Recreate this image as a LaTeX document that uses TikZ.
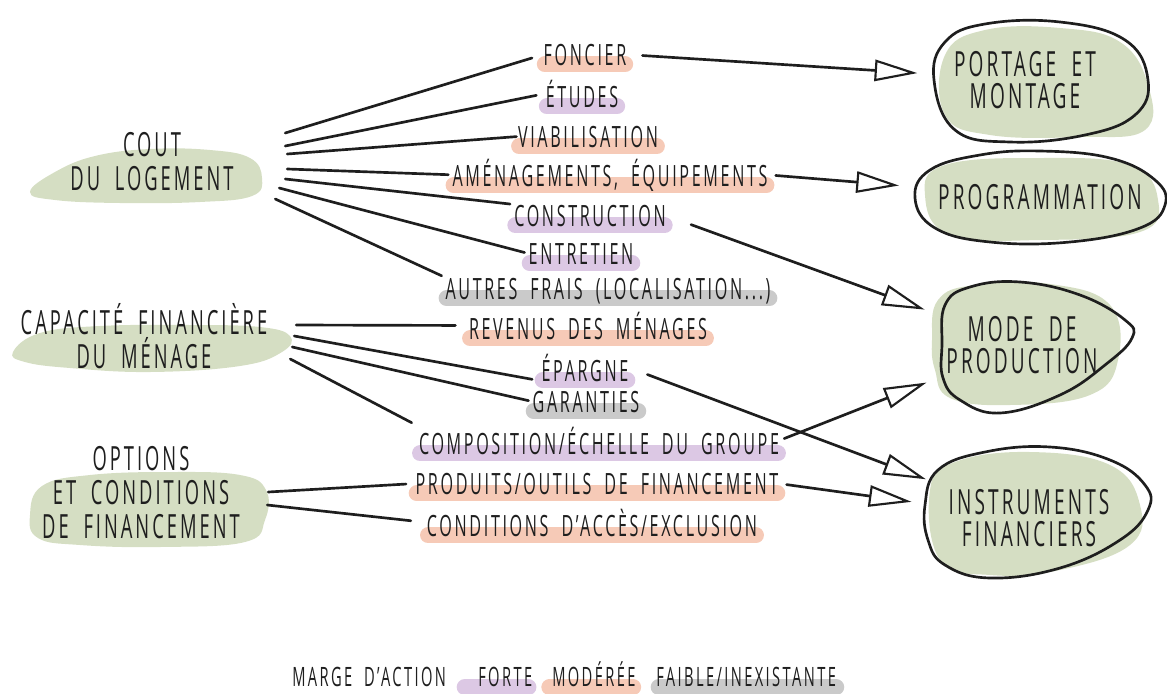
\documentclass[tikz,border=0pt]{standalone}
\usepackage{fontspec}
\setmainfont{Open Sans}[FakeStretch=0.55,LetterSpace=9,WordSpace=1.9]
\usetikzlibrary{arrows.meta,shapes.geometric,calc}
\pgfdeclarelayer{bg}
\pgfsetlayers{bg,main}
\definecolor{sage}{HTML}{D5DEC3}
\definecolor{peach}{HTML}{F6CAB7}
\definecolor{lilac}{HTML}{DCC8E4}
\definecolor{greyhl}{HTML}{CACACA}
\definecolor{ink}{HTML}{1E1E1E}
\tikzset{
  leftnode/.style={align=center, font=\fontsize{25}{25.5}\selectfont, text=ink, inner sep=0pt},
  midnode/.style={anchor=base, font=\fontsize{22}{24}\selectfont, text=ink, inner sep=0pt},
  rightnode/.style={ellipse, align=center, font=\fontsize{26}{24}\selectfont, text=ink, inner sep=0pt},
  legnode/.style={anchor=base west, font=\fontsize{20}{22}\selectfont, text=ink, inner sep=0pt},
  conn/.style={draw=ink, line width=2pt, line cap=round},
  arr/.style={conn, -{Triangle[open, length=32pt, width=16pt, line width=1.6pt]}},
  hl/.style={line width=12pt, line cap=round},
  hlO/.style={hl, draw=peach},
  hlP/.style={hl, draw=lilac},
  hlG/.style={hl, draw=greyhl},
  blob/.style={fill=sage, draw=none},
  outl/.style={draw=ink, line width=2pt},
}
\begin{document}
\begin{tikzpicture}[x=0.75pt,y=-0.75pt]
\useasboundingbox (0,0) rectangle (1167,693);

% ---------- left nodes ----------
\node[leftnode, minimum width=199.5pt] (cout) at (152,162) {COUT\\DU LOGEMENT};
\node[leftnode, minimum width=226.5pt] (capa) at (144,336) {CAPACITÉ FINANCIÈRE\\DU MÉNAGE};
\node[leftnode, minimum width=193.5pt] (opt) at (141,493) {OPTIONS\\ET CONDITIONS\\DE FINANCEMENT};

% ---------- middle nodes ----------
\node[midnode] (foncier) at (585,65) {FONCIER};
\node[midnode] (etudes) at (582,107) {ÉTUDES};
\node[midnode] (viab) at (588,147) {VIABILISATION};
\node[midnode] (amen) at (610,186) {AMÉNAGEMENTS, ÉQUIPEMENTS};
\node[midnode] (constr) at (590,226) {CONSTRUCTION};
\node[midnode] (entret) at (581,264) {ENTRETIEN};
\node[midnode] (autres) at (608,299) {AUTRES FRAIS (LOCALISATION...)};
\node[midnode] (revenus) at (588,339) {REVENUS DES MÉNAGES};
\node[midnode] (epargne) at (585,381) {ÉPARGNE};
\node[midnode] (garant) at (586,412) {GARANTIES};
\node[midnode] (compo) at (599,454) {COMPOSITION/ÉCHELLE DU GROUPE};
\node[midnode] (produits) at (597,494) {PRODUITS/OUTILS DE FINANCEMENT};
\node[midnode] (condit) at (592,536) {CONDITIONS D'ACCÈS/EXCLUSION};

% ---------- right nodes ----------
\node[rightnode, minimum width=162pt, minimum height=97.5pt] (portage) at (1025,80) {PORTAGE ET\\MONTAGE};
\node[rightnode, minimum width=195pt, minimum height=82.5pt] (prog) at (1040,197) {PROGRAMMATION};
\node[rightnode, minimum width=165pt, minimum height=112.5pt] (mode) at (1022,345) {MODE DE\\PRODUCTION};
\node[rightnode, minimum width=180pt, minimum height=112.5pt] (instr) at (1029,518) {INSTRUMENTS\\FINANCIERS};

% ---------- legend ----------
\node[legnode] (marge) at (292,686) {MARGE D'ACTION};
\node[legnode] (forte) at (478,686) {FORTE};
\node[legnode] (modere) at (552,686) {MODÉRÉE};
\node[legnode] (faible) at (656,686) {FAIBLE/INEXISTANTE};

% ---------- background: blobs and highlights ----------
\begin{pgfonlayer}{bg}
  \fill[blob] plot[smooth cycle, tension=0.7] coordinates {(30,192) (55,172) (95,156) (150,149) (210,150) (250,158) (262,178) (252,196) (200,202) (120,203) (55,200)};
  \fill[blob] plot[smooth cycle, tension=0.7] coordinates {(13,352) (40,333) (100,326) (190,325) (260,327) (290,336) (282,352) (240,366) (150,372) (70,368) (25,362)};
  \fill[blob] plot[smooth cycle, tension=0.7] coordinates {(30,515) (42,486) (90,475) (170,472) (240,475) (266,490) (265,520) (245,542) (160,547) (80,545) (38,538)};
  % right fills
  \fill[blob] plot[smooth cycle, tension=0.7] coordinates {(945,55) (985,30) (1060,28) (1120,42) (1148,85) (1145,130) (1080,137) (990,135) (945,115)};
  \fill[blob] plot[smooth cycle, tension=0.7] coordinates {(925,195) (945,165) (1040,158) (1130,165) (1158,200) (1140,232) (1040,240) (950,235)};
  \fill[blob] plot[smooth cycle, tension=0.7] coordinates {(932,340) (938,300) (975,285) (1050,284) (1110,305) (1118,360) (1090,395) (1010,405) (950,398) (935,370)};
  \fill[blob] plot[smooth cycle, tension=0.7] coordinates {(930,490) (955,462) (1030,452) (1110,465) (1140,505) (1130,545) (1060,570) (990,575) (940,560)};
  % highlights
  \foreach \n/\s in {foncier/hlO, etudes/hlP, viab/hlO, amen/hlO, constr/hlP, entret/hlP, autres/hlG, revenus/hlO, epargne/hlP, garant/hlG, compo/hlP, produits/hlO, condit/hlO}{
    \draw[\s] ([xshift=1pt,yshift=0.5pt]\n.base west) -- ([xshift=-1pt,yshift=0.5pt]\n.base east);
  }
  \draw[hlP] ([xshift=-10pt,yshift=-1pt]forte.base west) -- ([xshift=-3pt,yshift=-1pt]forte.base east);
  \draw[hlO] ([xshift=-2pt,yshift=-1pt]modere.base west) -- ([xshift=-2pt,yshift=-1pt]modere.base east);
  \draw[hlG] ([xshift=2pt,yshift=-1pt]faible.base west) -- ([xshift=0pt,yshift=-1pt]faible.base east);
\end{pgfonlayer}

% right outlines
\draw[outl] plot[smooth cycle, tension=0.7] coordinates {(934,80) (945,42) (985,24) (1060,22) (1125,40) (1148,80) (1135,115) (1085,135) (1010,142) (955,130)};
\draw[outl] plot[smooth cycle, tension=0.7] coordinates {(915,198) (930,170) (980,155) (1040,151) (1110,158) (1155,180) (1165,205) (1140,228) (1070,242) (990,242) (935,228)};
\draw[outl] plot[smooth cycle, tension=0.7] coordinates {(942,345) (945,305) (970,287) (1020,282) (1080,295) (1125,320) (1132,338) (1105,365) (1060,395) (1000,413) (960,400) (943,378)};
\draw[outl] plot[smooth cycle, tension=0.7] coordinates {(925,505) (938,470) (985,452) (1050,447) (1110,460) (1145,485) (1148,510) (1120,540) (1060,568) (990,578) (945,565) (928,540)};

% ---------- connectors: cout ----------
\draw[conn, shorten >=9pt] ([shift={(0,-29)}]cout.east) -- (foncier.west);
\draw[conn, shorten >=7pt] ([shift={(0,-16)}]cout.east) -- (etudes.west);
\draw[conn, shorten >=1pt] ([shift={(2,-8)}]cout.east) -- (viab.west);
\draw[conn, shorten >=3pt] ([shift={(2,7)}]cout.east) -- (amen.west);
\draw[conn, shorten >=3pt] ([shift={(0,17)}]cout.east) -- (constr.north west);
\draw[conn, shorten >=3pt] ([shift={(-6,26)}]cout.east) -- (entret.west);
\draw[conn, shorten >=3pt] ([shift={(-10,37)}]cout.east) -- (autres.north west);
% capa
\draw[conn, shorten >=10pt] ([shift={(1,-11)}]capa.east) -- (revenus.west);
\draw[conn, shorten >=7pt] ([shift={(-1,0)}]capa.east) -- (epargne.base west);
\draw[conn, shorten >=3pt] ([shift={(-3,11)}]capa.east) -- (garant.west);
\draw[conn, shorten >=6pt] ([shift={(-5,23)}]capa.east) -- (compo.north west);
% opt
\draw[conn, shorten >=7pt] ([shift={(-2,-1)}]opt.east) -- (produits.west);
\draw[conn, shorten >=12pt] ([shift={(-3,12)}]opt.east) -- (condit.west);

% ---------- arrows ----------
\draw[arr, shorten <=12pt] (foncier.east) -- (portage);
\draw[arr, shorten <=6pt] (amen.east) -- (prog);
\draw[arr, shorten <=20pt] (constr.east) -- (mode);
\draw[arr, shorten <=4pt] (compo.east) -- (mode);
\draw[arr, shorten <=15pt] (epargne.east) -- (instr);
\draw[arr, shorten <=6pt] (produits.east) -- (instr);
\end{tikzpicture}
\end{document}
